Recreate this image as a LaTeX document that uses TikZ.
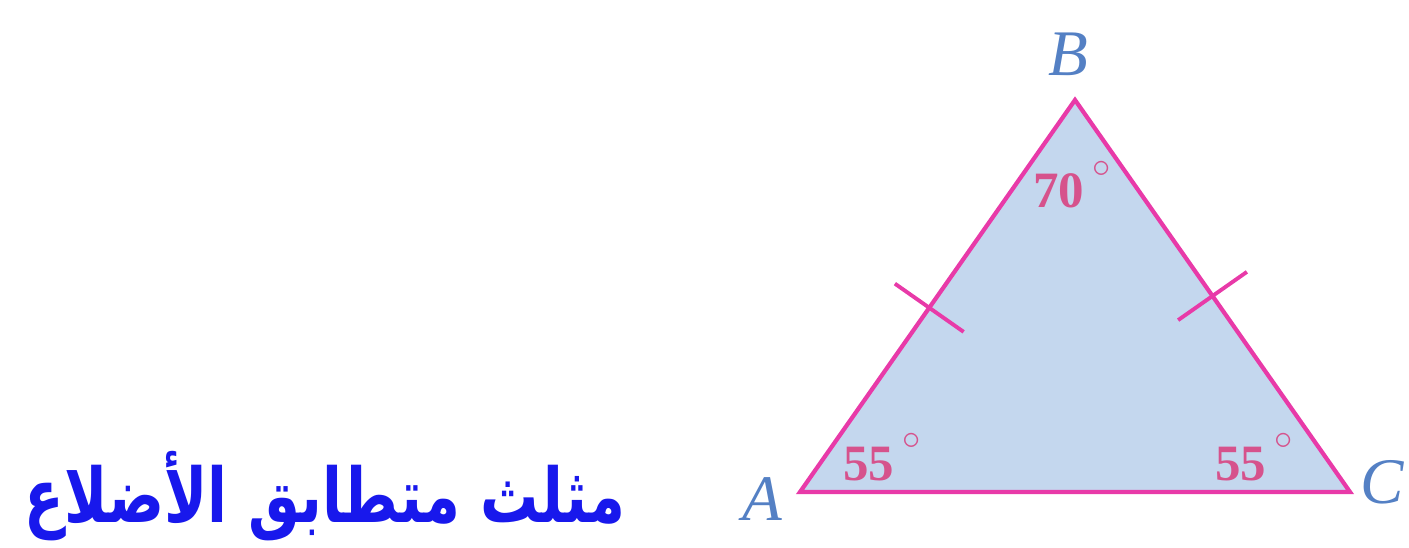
\documentclass[tikz,border=0pt]{standalone}
\usepackage{fontspec}
\setmainfont{Liberation Serif}
\newfontfamily\arabicfont[Script=Arabic]{DejaVu Sans}
\TeXXeTstate=1
\usepackage{graphicx}
\usepackage{tikz}
\usetikzlibrary{calc}
\definecolor{trifill}{RGB}{196,215,238}
\definecolor{triedge}{RGB}{232,58,168}
\definecolor{vtxblue}{RGB}{84,128,196}
\definecolor{angpink}{RGB}{214,82,140}
\definecolor{titleblue}{RGB}{24,24,236}
\newcommand{\degmark}{\kern4.5pt\raisebox{17.5pt}{\fontsize{22}{22}\selectfont$\circ$}}
\tikzset{
  vtx/.style={font=\fontsize{37}{40}\selectfont\itshape, text=vtxblue, inner sep=0pt, anchor=base},
  ang/.style={font=\fontsize{29}{30}\selectfont\bfseries, text=angpink, inner sep=0pt, anchor=base west},
  tick/.style={draw=triedge, line width=2.2pt}
}
\begin{document}
\begin{tikzpicture}
    \useasboundingbox (0,0) rectangle (28.18,10.94);

    % corners
    \coordinate (A) at (16.0,1.1);
    \coordinate (B) at (21.5,8.94);
    \coordinate (C) at (27.0,1.1);

    % triangle
    \fill[trifill, draw=triedge, line width=2.4pt, line join=miter] (A) -- (B) -- (C) -- cycle;

    % equal sides
    \coordinate (mab) at ($(A)!0.47!(B)$);
    \coordinate (mbc) at ($(B)!0.5!(C)$);
    \draw[tick] ($(mab)!0.84cm!90:(B)$) -- ($(mab)!0.84cm!-90:(B)$);
    \draw[tick] ($(mbc)!0.84cm!90:(C)$) -- ($(mbc)!0.84cm!-90:(C)$);

    % vertex names
    \node[vtx] (labA) at (15.24,0.54) {A};
    \node[vtx] (labB) at (21.36,9.42) {B};
    \node[vtx] (labC) at (27.64,0.88) {C};

    % angles
    \node[ang] (angB) at (20.66,6.78) {70\degmark};
    \node[ang] (angA) at (16.86,1.34) {55\degmark};
    \node[ang] (angC) at (24.30,1.34) {55\degmark};

    % title
    \node[text=titleblue, inner sep=0pt, anchor=base] (title) at (6.5,0.5)
      {\scalebox{1}[1.3]{\resizebox{12cm}{!}{\arabicfont\bfseries\beginR مثلث متطابق الأضلاع\endR}}};
\end{tikzpicture}
\end{document}
